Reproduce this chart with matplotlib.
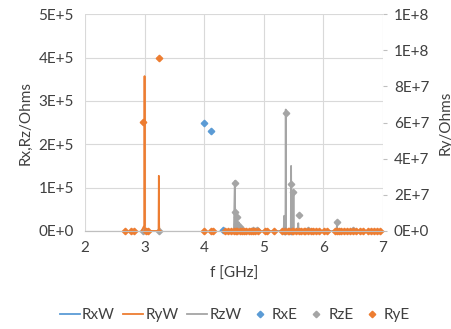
import matplotlib
matplotlib.use("Agg")
import matplotlib.pyplot as plt
from matplotlib.ticker import FuncFormatter, MultipleLocator
from matplotlib.lines import Line2D

plt.rcParams['font.family'] = ['Lato', 'DejaVu Sans']

BLUE = '#5B9BD5'
ORANGE = '#ED7D31'
GRAY = '#A5A5A5'

# RxW line (left axis, Ohms) - sits on zero
rxw_f = [4.28, 4.32, 4.36, 5.33, 5.35, 5.37, 5.43, 5.45, 5.47]
rxw_v = [0, 2e3, 0, 0, 1e3, 0, 0, 1e3, 0]

# RzW line (left axis, Ohms)
rzw_f = [4.50, 4.515, 4.525, 4.54, 4.545, 4.55, 4.575, 4.58, 4.585, 4.82, 4.83, 4.84,
         5.335, 5.345, 5.355, 5.365, 5.37, 5.375, 5.455, 5.46, 5.465, 5.495, 5.50, 5.505,
         5.575, 5.58, 5.585, 6.225, 6.23, 6.235]
rzw_v = [0, 1.15e5, 0, 0, 0.40e5, 0, 0, 0.20e5, 0, 0, 0.04e5, 0,
         0, 0.35e5, 0, 0, 2.80e5, 0, 0, 1.50e5, 0, 0, 0.89e5, 0,
         0, 0.18e5, 0, 0, 0.20e5, 0]

# RyW line (right axis, Ohms)
ryw_f = [2.95, 2.995, 3.0, 3.005, 3.01, 3.05, 3.235, 3.24, 3.245, 3.25, 3.27]
ryw_v = [0, 0.3e7, 8.57e7, 0.3e7, 0, 0, 0, 3.05e7, 0.3e7, 0, 0]

# RxE points (left axis)
rxe_f = [4.0, 4.12, 4.32, 5.35, 5.45]
rxe_v = [2.50e5, 2.30e5, 0.02e5, 0.01e5, 0.01e5]

# RzE points (left axis)
rze_f = [2.98, 3.25, 4.52, 4.52, 4.545, 4.56, 4.60, 4.82, 4.88, 5.345, 5.37, 5.46,
         5.50, 5.59, 5.75, 6.23, 6.50]
rze_v = [0, 0, 1.11e5, 0.44e5, 0.33e5, 0.15e5, 0.08e5, 0.03e5, 0.03e5, 0.01e5, 2.73e5, 1.08e5,
         0.89e5, 0.37e5, 0.02e5, 0.20e5, 0.03e5]

# RyE points (right axis)
rye_f = [2.98, 3.24, 2.67, 2.77, 2.82, 3.02, 3.05, 4.0, 4.12, 4.15, 4.35, 4.4, 4.45, 4.5,
         4.53, 4.56, 4.6, 4.63, 4.67, 4.7, 4.75, 4.78, 4.82, 4.86, 4.9, 5.02, 5.06, 5.17,
         5.3, 5.35, 5.4, 5.43, 5.47, 5.5, 5.55, 5.6, 5.63, 5.67, 5.7, 5.75, 5.8, 5.83,
         5.87, 5.93, 6.02, 6.06, 6.2, 6.23, 6.27, 6.3, 6.35, 6.4, 6.45, 6.5, 6.55, 6.62,
         6.66, 6.75, 6.8, 6.85, 6.9, 6.95]
rye_v = [6.05e7, 9.58e7] + [0] * 60


def excel_sci(v, pos):
    s = f"{v:.0E}"
    m, e = s.split("E")
    return f"{m}E{e[0]}{int(e[1:])}"


FS = 11
MS = 3.3

fig = plt.figure(figsize=(4.52, 3.29), dpi=100)
ax = fig.add_axes([0.188, 0.298, 0.659, 0.659])
ax2 = ax.twinx()

ax.plot(rxw_f, rxw_v, color=BLUE, lw=1.3, label='RxW')
ax2.plot(ryw_f, ryw_v, color=ORANGE, lw=1.3, label='RyW')
ax.plot(rzw_f, rzw_v, color=GRAY, lw=1.3, label='RzW')
ax.plot(rze_f, rze_v, 'D', color=GRAY, ms=MS, ls='none', clip_on=False, label='RzE')
ax.plot(rxe_f, rxe_v, 'D', color=BLUE, ms=MS, ls='none', clip_on=False, label='RxE')
ax2.plot(rye_f, rye_v, 'D', color=ORANGE, ms=MS, ls='none', clip_on=False, label='RyE')

ax.set_xlim(2, 7)
ax.set_ylim(0, 5e5)
ax2.set_ylim(0, 1.2e8)
ax.xaxis.set_major_locator(MultipleLocator(1))
ax.yaxis.set_major_locator(MultipleLocator(1e5))
ax2.yaxis.set_major_locator(MultipleLocator(2e7))
ax.yaxis.set_major_formatter(FuncFormatter(excel_sci))
ax2.yaxis.set_major_formatter(FuncFormatter(excel_sci))

ax.grid(True, color='#D9D9D9', lw=0.8)
ax.set_axisbelow(True)
for a in (ax, ax2):
    for sp in ('top', 'left', 'right'):
        a.spines[sp].set_visible(False)
    a.spines['bottom'].set_color('#BFBFBF')
ax.tick_params(axis='both', length=0, labelsize=FS, colors='#404040', pad=7)
ax.tick_params(axis='y', pad=8)
ax2.tick_params(axis='y', length=3, color='#BFBFBF', labelsize=FS, labelcolor='#404040', pad=5)

ax.set_xlabel('f [GHz]', fontsize=FS, color='#404040', labelpad=9)
ax.set_ylabel('Rx,Rz/Ohms', fontsize=FS, color='#404040', labelpad=4)
ax2.set_ylabel('Ry/Ohms', fontsize=FS, color='#404040', labelpad=7)

handles = [
    Line2D([], [], color=BLUE, lw=1.3),
    Line2D([], [], color=ORANGE, lw=1.3),
    Line2D([], [], color=GRAY, lw=1.3),
    Line2D([], [], marker='D', color=BLUE, ms=MS, ls='none'),
    Line2D([], [], marker='D', color=GRAY, ms=MS, ls='none'),
    Line2D([], [], marker='D', color=ORANGE, ms=MS, ls='none'),
]
labels = ['RxW', 'RyW', 'RzW', 'RxE', 'RzE', 'RyE']
leg = fig.legend(handles, labels, loc='center', bbox_to_anchor=(0.52, 0.043), ncol=6,
                 frameon=False, fontsize=FS, handlelength=1.3, handletextpad=0.15,
                 columnspacing=0.55)
for t in leg.get_texts():
    t.set_color('#404040')

fig.savefig('out.png', dpi=100)
